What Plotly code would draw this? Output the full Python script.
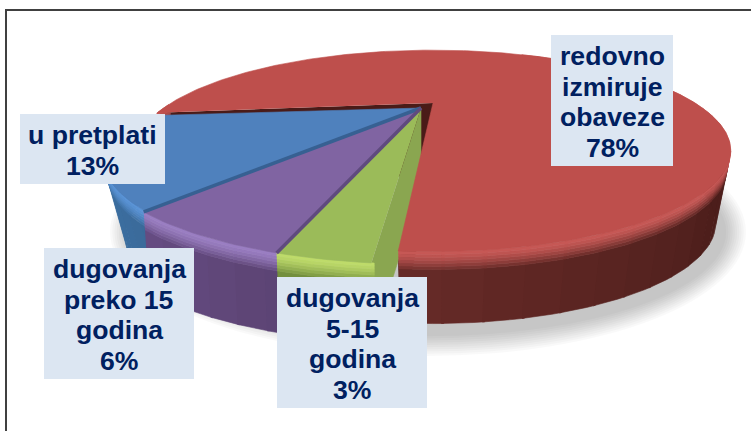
import numpy as np
import plotly.graph_objects as go

# ---- data ----
categories = ["redovno izmiruje obaveze", "u pretplati", "dugovanja preko 15 godina", "dugovanja 5-15 godina"]
values = [78, 13, 6, 3]
label_lines = [
    ["redovno", "izmiruje", "obaveze", "78%"],
    ["u pretplati", "13%"],
    ["dugovanja", "preko 15", "godina", "6%"],
    ["dugovanja", "5-15", "godina", "3%"],
]

# ---- style / layout ----
W, H = 751, 431
START_ANGLE = 266.0
label_boxes = [(551, 673, 35, 166), (20, 165, 114, 184), (44, 194, 248, 379), (277, 427, 277, 408)]
LINE_PITCH = 30.4
FONT_SIZE = 26.6
TEXT_DY = 1.5
TEXT_COLOR = "#002060"
BOX_COLOR = "#DCE6F2"

red_geo = dict(ax=433, ay=103, sx=262, sy=78, k=0.475, dz=72, shrink=0.05, rot=0.0)
blue_geo = dict(ax=421, ay=108, sx=280, sy=82, k=0.475, dz=78, shrink=0.07, rot=-1.3)
grp_geo = dict(ax=421, ay=108, sx=283, sy=82, k=0.475, dz=80, shrink=0.02, rot=-1.3)
geos = [red_geo, blue_geo, grp_geo, grp_geo]

top_cols = ["#BE4F4C", "#4F81BD", "#8064A2", "#9BBB59"]
hi_cols = ["#C65855", "#5B94D6", "#9A7EC2", "#BEDB6A"]
wall_cols = [("#6E2E2B", "#4C1E1B"), ("#3F74A8", "#3A6A9A"), ("#664C82", "#5C4474"), ("#74903F", "#6D8A3A")]
seam_cols = [None, "#376092", "#5F4A7E", None]
cut_wall = ["#4A1B18", None, None, "#8AA650"]


def hex2rgb(c):
    return np.array([int(c[i:i + 2], 16) for i in (1, 3, 5)], float)


def to_hex(v):
    return "#%02X%02X%02X" % tuple(int(round(a)) for a in v)


def mix(a, b, t):
    return to_hex(hex2rgb(a) * (1 - t) + hex2rgb(b) * t)


def proj(theta_deg, g, z=0.0):
    th = np.radians(np.asarray(theta_deg, float) + g["rot"])
    x, y = np.cos(th), np.sin(th)
    w = 1 + g["k"] * y
    scale = 1 - g["shrink"] * z / g["dz"]
    return g["ax"] + g["sx"] * x / w * scale, g["ay"] - g["sy"] * y / w + z


fig = go.Figure()


def poly(xs, ys, color):
    fig.add_trace(go.Scatter(x=list(xs), y=list(ys), mode="lines", fill="toself", fillcolor=color,
                             line=dict(color=color, width=0.6), hoverinfo="skip", showlegend=False))


def arc(a0, a1, g, z=0.0):
    t = np.linspace(a0, a1, max(int(abs(a1 - a0)), 3))
    return proj(t, g, z)


def face(a0, a1, g, color):
    x, y = arc(a0, a1, g)
    poly(np.r_[g["ax"], x], np.r_[g["ay"], y], color)


def cut(a, g, color):
    rx, ry = proj(a, g)
    bx, by = proj(a, g, g["dz"])
    poly([g["ax"], g["ax"], bx, rx], [g["ay"], g["ay"] + g["dz"], by, ry], color)


def wall(a0, a1, g, idx, step=5.0):
    angles = np.arange(a0, a1, step).tolist() + [a1]
    c0, c1 = wall_cols[idx]
    span = max(a1 - a0, 1)
    zs = [0, 3, 6, 9, 12, 15, 18, g["dz"]]
    # deepest band first, so the highlight bands stay on top past the silhouette
    for j in range(len(zs) - 2, -1, -1):
        t = j / (len(zs) - 2)
        for i in range(len(angles) - 1):
            aa, ab = angles[i], angles[i + 1]
            m = (aa + ab) / 2
            mm = m % 360
            if not (180 <= mm <= 360 or mm <= 60):
                continue
            rel = min(((mm - 250) % 360) / 70.0, 1.0) if idx == 0 else (m - a0) / span
            base = mix(c0, c1, rel)
            col = base if j == len(zs) - 2 else mix(hi_cols[idx], base, t ** 1.4)
            xa, ya = arc(aa, ab + 0.3, g, zs[j])
            xb, yb = arc(aa, ab + 0.3, g, zs[j + 1])
            poly(np.r_[xa, xb[::-1]], np.r_[ya, yb[::-1]], col)


# cumulative angles from the values
total = sum(values)
edges = [START_ANGLE]
for v in values:
    edges.append(edges[-1] + 360.0 * v / total)
spans = list(zip(edges[:-1], edges[1:]))

# red slice: dark cut walls, green cut wall, red wall, red top
cut(spans[0][1], red_geo, cut_wall[0])
cut(spans[0][0], red_geo, cut_wall[0])
cut(spans[3][1], geos[3], cut_wall[3])
wall(spans[0][0], spans[0][1], red_geo, 0)
face(spans[0][0], spans[0][1], red_geo, top_cols[0])

# front slices
for i in (1, 2, 3):
    a0, a1 = spans[i]
    wall(a0, a1, geos[i], i, step=4.0)
    face(a0, a1, geos[i], top_cols[i])

# seams between the front slices
for i in (1, 2):
    g = geos[i + 1]
    rx, ry = proj(spans[i][1], g)
    fig.add_trace(go.Scatter(x=[g["ax"], rx], y=[g["ay"], ry], mode="lines",
                             line=dict(color=seam_cols[i], width=3.5), hoverinfo="skip", showlegend=False))

# soft shadow
shapes = []
for n in range(10):
    grow = 22 - 2.2 * n
    shapes.append(dict(type="circle", xref="x", yref="y", layer="below",
                       x0=428 - 296 - grow, x1=428 + 296 + grow,
                       y0=232 - 102 - grow, y1=232 + 102 + grow,
                       fillcolor="rgba(0,0,0,0.022)", line=dict(width=0)))

# frame (left and top edges visible)
shapes.append(dict(type="rect", xref="x", yref="y", layer="above", x0=6, x1=790, y0=10, y1=470,
                   fillcolor="rgba(0,0,0,0)", line=dict(color="#404040", width=2)))

# label boxes and text
annotations = []
for lines, (x0, x1, y0, y1) in zip(label_lines, label_boxes):
    shapes.append(dict(type="rect", xref="x", yref="y", layer="above", x0=x0, x1=x1, y0=y0, y1=y1,
                       fillcolor=BOX_COLOR, line=dict(width=0)))
    yc = (y0 + y1) / 2 + TEXT_DY
    n = len(lines)
    for j, s in enumerate(lines):
        annotations.append(dict(x=(x0 + x1) / 2, y=yc + (j - (n - 1) / 2) * LINE_PITCH, xref="x", yref="y",
                                text="<b>%s</b>" % s, showarrow=False, xanchor="center", yanchor="middle",
                                font=dict(family="Liberation Sans", size=FONT_SIZE, color=TEXT_COLOR)))

fig.update_layout(
    width=W, height=H, margin=dict(l=0, r=0, t=0, b=0),
    paper_bgcolor="white", plot_bgcolor="white", showlegend=False,
    xaxis=dict(range=[0, W], visible=False, fixedrange=True),
    yaxis=dict(range=[H, 0], visible=False, fixedrange=True),
    shapes=shapes, annotations=annotations,
)
fig.write_html("out.html", config=dict(displayModeBar=False), default_width="751px", default_height="431px",
               post_script="document.body.style.margin='0';")
